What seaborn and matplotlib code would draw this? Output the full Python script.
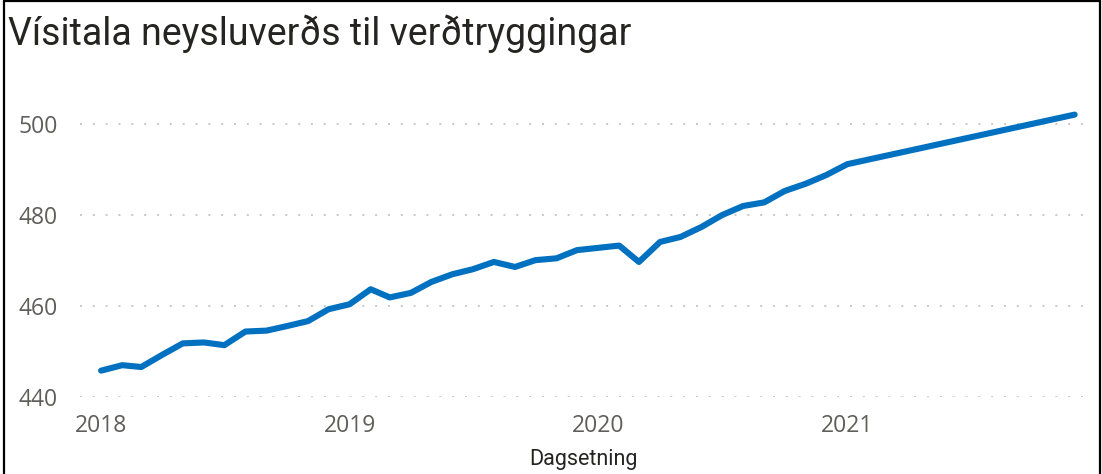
import numpy as np
import pandas as pd
import matplotlib
matplotlib.use("Agg")
import matplotlib.pyplot as plt
import matplotlib.dates as mdates
from matplotlib.patches import Rectangle
import seaborn as sns

# Monthly index values (Jan 2018 - Jan 2021) plus the last point
months = list(pd.date_range("2018-01-01", "2021-01-01", freq="MS")) + [pd.Timestamp("2021-12-01")]
values_2018 = [445.8, 447.0, 446.6, 449.3, 451.8, 452.0, 451.4, 454.4, 454.6, 455.6, 456.7, 459.3]
values_2019 = [460.4, 463.7, 461.9, 462.9, 465.3, 467.0, 468.1, 469.7, 468.6, 470.1, 470.5, 472.3]
values_2020 = [472.8, 473.3, 469.7, 474.1, 475.2, 477.4, 480.0, 482.0, 482.8, 485.3, 486.9, 488.8]
values_2021 = [491.2, 502.1]
y_ticks = [440, 460, 480, 500]

title = "Vísitala neysluverðs til verðtryggingar"
x_label = "Dagsetning"

df = pd.DataFrame({
    "Dagsetning": months,
    "Vísitala": values_2018 + values_2019 + values_2020 + values_2021,
})

sns.set_style("white")
plt.rcParams["font.family"] = ["Roboto", "DejaVu Sans"]

fig = plt.figure(figsize=(11.02, 4.74), dpi=100)
ax = fig.add_axes([0.0726, 0.1624, 0.9137, 0.6716])

sns.lineplot(data=df, x="Dagsetning", y="Vísitala", ax=ax,
             color="#0070C0", linewidth=4.4, solid_capstyle="round",
             solid_joinstyle="round")

ax.set_ylim(440, 510)
ax.set_yticks(y_ticks)
ax.set_xlim(pd.Timestamp("2017-12-01"), pd.Timestamp("2021-12-19"))
ax.xaxis.set_major_locator(mdates.YearLocator())
ax.xaxis.set_major_formatter(mdates.DateFormatter("%Y"))

ax.yaxis.grid(True, color="#c8c8c8", linewidth=1.4, linestyle=(0, (1, 5.6)))
ax.xaxis.grid(False)
for s in ax.spines.values():
    s.set_visible(False)

ax.tick_params(axis="both", length=0, labelsize=16.5, labelcolor="#605E5C")
ax.tick_params(axis="y", pad=16)
ax.tick_params(axis="x", pad=12)
for lab in ax.get_xticklabels() + ax.get_yticklabels():
    lab.set_fontfamily(["Open Sans", "DejaVu Sans"])

ax.set_xlabel(x_label, fontsize=15.5, color="#252423", labelpad=8)
ax.set_ylabel("")

fig.text(8 / 1102, 1 - 45 / 474, title, fontsize=27, color="#252423",
         ha="left", va="baseline")

# frame around the visual
fig.add_artist(Rectangle((0.0035, -0.05), 0.9945, 1.048, transform=fig.transFigure,
                         fill=False, edgecolor="black", linewidth=1.6))

fig.savefig("out.png", dpi=100)
